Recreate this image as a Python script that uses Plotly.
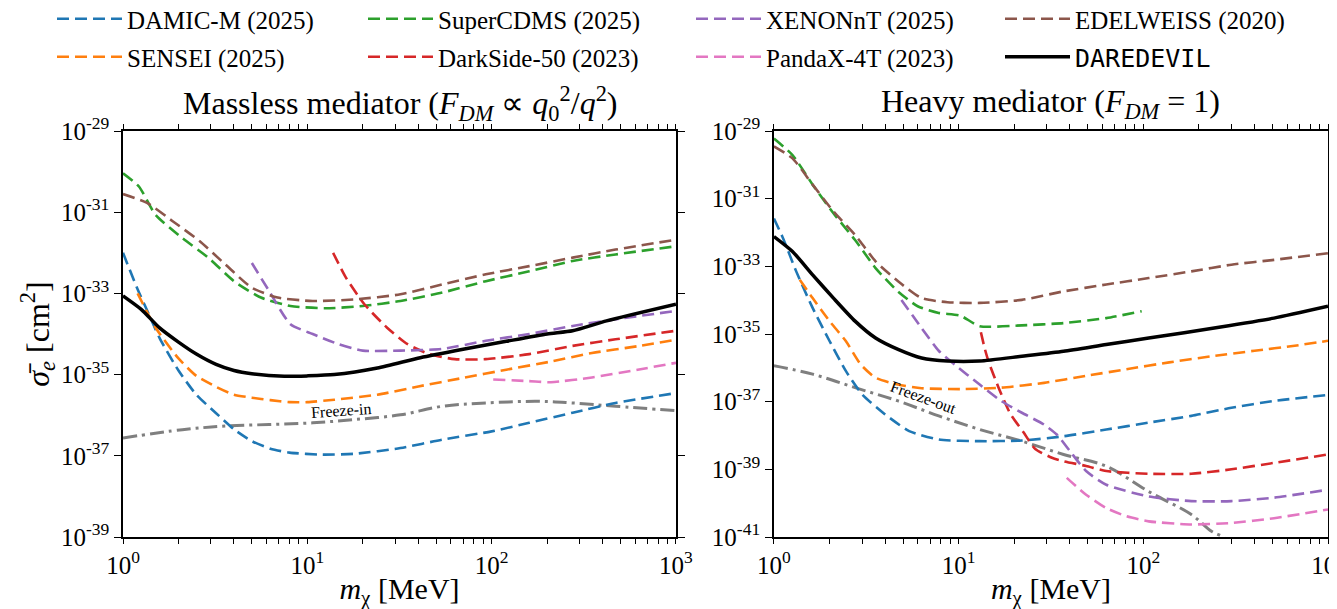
import plotly.graph_objects as go

# ---------------- data (mass in MeV, cross section in cm^2) ----------------
# Left panel: massless mediator
L_damic_m = [1.0, 1.2, 1.41, 1.58, 2.0, 2.5, 3.2, 4.0, 5.0, 6.3, 8.0, 12, 18, 32, 54, 100, 160, 275, 470, 1000]
L_damic_s = [1.0e-32, 1.26e-33, 2.5e-34, 7.9e-35, 1.26e-35, 3.2e-36, 1.12e-36, 4.5e-37, 2.3e-37, 1.5e-37,
             1.2e-37, 1.07e-37, 1.12e-37, 1.55e-37, 2.5e-37, 4.0e-37, 6.5e-37, 1.15e-36, 2.0e-36, 3.5e-36]

L_sensei_m = [1.2, 1.5, 2.0, 2.5, 3.2, 4.0, 5.0, 6.3, 8.0, 10, 14, 24, 40, 70, 120, 210, 350, 620, 1000]
L_sensei_s = [1.0e-33, 1.45e-34, 2.5e-35, 9.3e-36, 5.0e-36, 3.2e-36, 2.7e-36, 2.35e-36, 2.1e-36, 2.1e-36,
              2.4e-36, 3.2e-36, 5.1e-36, 8.3e-36, 1.32e-35, 2.1e-35, 3.4e-35, 5.0e-35, 7.2e-35]

L_scdms_m = [1.0, 1.22, 1.5, 2.1, 2.9, 4.0, 5.6, 8.1, 12.6, 20, 32, 54, 93, 160, 275, 470, 1000]
L_scdms_s = [9.1e-31, 4.3e-31, 8.7e-32, 2.3e-32, 7.6e-33, 2.0e-33, 7.9e-34, 4.9e-34, 4.3e-34, 4.9e-34,
             6.5e-34, 1.05e-33, 2.0e-33, 3.5e-33, 6.3e-33, 9.1e-33, 1.45e-32]

L_edel_m = [1.0, 1.35, 1.86, 2.6, 3.6, 5.0, 6.9, 10.7, 18, 32, 54, 93, 160, 275, 470, 1000]
L_edel_s = [2.8e-31, 1.7e-31, 6.0e-32, 1.95e-32, 5.1e-33, 1.38e-33, 7.9e-34, 6.5e-34, 7.1e-34, 9.5e-34,
            1.66e-33, 2.95e-33, 4.7e-33, 7.6e-33, 1.2e-32, 2.1e-32]

L_xenon_m = [5.0, 6.2, 8.1, 10.7, 14.8, 20, 32, 54, 93, 160, 275, 470, 1000]
L_xenon_s = [5.6e-33, 1.15e-33, 1.74e-34, 1.0e-34, 5.6e-35, 3.9e-35, 3.9e-35, 4.3e-35, 6.8e-35, 1.0e-34,
             1.58e-34, 2.3e-34, 3.7e-34]

L_ds50_m = [13.8, 16.2, 20.4, 27, 35, 46, 63, 93, 160, 275, 470, 1000]
L_ds50_s = [1.0e-32, 2.45e-33, 5.4e-34, 1.45e-34, 5.6e-35, 3.2e-35, 2.4e-35, 2.4e-35, 3.2e-35, 5.1e-35,
            7.4e-35, 1.2e-34]

L_panda_m = [102, 160, 210, 350, 620, 1000]
L_panda_s = [7.6e-36, 6.9e-36, 6.5e-36, 8.5e-36, 1.32e-35, 1.95e-35]

L_dare_m = [1.0, 1.26, 1.58, 2.0, 2.5, 3.2, 4.0, 5.0, 7.5, 10, 14, 24, 41, 70, 120, 200, 275, 420, 1000]
L_dare_s = [8.7e-34, 4.0e-34, 1.41e-34, 6.3e-35, 3.2e-35, 1.78e-35, 1.26e-35, 1.05e-35, 9.1e-36, 9.3e-36,
            1.0e-35, 1.45e-35, 2.6e-35, 4.2e-35, 6.6e-35, 1.0e-34, 1.2e-34, 2.1e-34, 5.4e-34]

L_freeze_m = [1.0, 2.1, 3.6, 6.2, 10.7, 18, 32, 54, 93, 178, 275, 470, 1000]
L_freeze_s = [2.75e-37, 4.4e-37, 5.4e-37, 5.9e-37, 6.5e-37, 7.8e-37, 1.02e-36, 1.66e-36, 2.0e-36, 2.2e-36,
              2.0e-36, 1.66e-36, 1.29e-36]

# Right panel: heavy mediator
R_damic_m = [1.0, 1.12, 1.32, 1.62, 2.0, 2.45, 3.0, 4.0, 5.4, 7.8, 13, 22, 37, 63, 107, 182, 300, 510, 1000]
R_damic_s = [2.6e-32, 6.8e-33, 7.1e-34, 5.9e-35, 6.2e-36, 8.1e-37, 1.66e-37, 4.2e-38, 1.35e-38, 7.6e-39,
             6.8e-39, 7.1e-39, 9.5e-39, 1.5e-38, 2.4e-38, 3.8e-38, 6.6e-38, 1.05e-37, 1.58e-37]

R_sensei_m = [1.38, 1.62, 2.0, 2.45, 2.95, 3.55, 4.7, 6.3, 10.2, 17, 29, 49, 81, 138, 234, 400, 660, 1000]
R_sensei_s = [4.0e-34, 1.15e-34, 2.4e-35, 6.2e-36, 1.26e-36, 5.1e-37, 3.2e-37, 2.5e-37, 2.35e-37, 2.6e-37,
              3.6e-37, 5.8e-37, 9.1e-37, 1.45e-36, 2.2e-36, 3.2e-36, 4.5e-36, 6.3e-36]

R_scdms_m = [1.0, 1.26, 1.62, 2.1, 2.75, 3.55, 4.7, 6.0, 7.8, 10.2, 13, 22, 37, 63, 98]
R_scdms_s = [6.0e-30, 1.95e-30, 2.6e-31, 3.7e-32, 6.0e-33, 8.9e-34, 1.8e-34, 6.6e-35, 4.2e-35, 3.5e-35,
             1.7e-35, 1.8e-35, 2.1e-35, 2.95e-35, 4.7e-35]

R_edel_m = [1.0, 1.26, 1.62, 2.1, 2.75, 3.55, 4.7, 6.3, 8.7, 13, 22, 37, 63, 107, 182, 300, 510, 1000]
R_edel_s = [3.5e-30, 1.55e-30, 2.6e-31, 4.2e-32, 8.5e-33, 1.41e-33, 3.6e-34, 1.15e-34, 8.7e-35, 8.3e-35,
            1.02e-34, 1.82e-34, 2.9e-34, 4.5e-34, 7.1e-34, 1.12e-33, 1.55e-33, 2.45e-33]

R_xenon_m = [4.9, 6.3, 7.8, 9.5, 13, 17, 22, 29, 34, 40, 49, 63, 107, 182, 300, 510, 1000]
R_xenon_s = [1.02e-34, 1.5e-35, 3.2e-36, 1.26e-36, 3.2e-37, 1.05e-37, 4.7e-38, 2.1e-38, 1.07e-38, 3.5e-39,
             8.9e-40, 3.5e-40, 1.58e-40, 1.15e-40, 1.15e-40, 1.45e-40, 2.5e-40]

R_ds50_m = [13.2, 13.8, 14.5, 16.5, 19, 22.4, 26, 32, 37, 49, 63, 107, 182, 300, 510, 1000]
R_ds50_s = [1.12e-35, 4.0e-36, 1.58e-36, 2.5e-37, 4.5e-38, 1.26e-38, 4.0e-39, 2.2e-39, 1.74e-39, 1.26e-39,
            8.9e-40, 7.4e-40, 7.4e-40, 1.0e-39, 1.55e-39, 2.75e-39]

R_panda_m = [38.5, 49, 63, 81, 107, 182, 300, 510, 1000]
R_panda_s = [5.6e-40, 1.78e-40, 7.2e-41, 4.1e-41, 2.9e-41, 2.35e-41, 2.6e-41, 3.6e-41, 6.5e-41]

R_dare_m = [1.0, 1.26, 1.62, 2.1, 2.75, 3.55, 4.7, 6.3, 8.7, 13, 22, 37, 63, 107, 257, 510, 1000]
R_dare_s = [7.6e-33, 2.75e-33, 5.6e-34, 1.15e-34, 2.4e-35, 7.6e-36, 3.5e-36, 1.95e-36, 1.58e-36, 1.58e-36,
            2.2e-36, 3.1e-36, 4.9e-36, 7.6e-36, 1.58e-35, 2.95e-35, 6.6e-35]

R_freeze_m = [1.0, 1.62, 2.75, 4.7, 7.8, 13, 22, 37, 63, 107, 182, 234, 270, 300]
R_freeze_s = [1.15e-36, 6.5e-37, 2.6e-37, 1.05e-37, 3.8e-38, 1.51e-38, 6.8e-39, 2.75e-39, 1.23e-39,
              2.2e-40, 4.6e-41, 1.48e-41, 1.0e-41, 6.0e-42]

# legend order: row 1 then row 2
series_names = ["DAMIC-M (2025)", "SuperCDMS (2025)", "XENONnT (2025)", "EDELWEISS (2020)",
                "SENSEI (2025)", "DarkSide-50 (2023)", "PandaX-4T (2023)", "DAREDEVIL"]
# x ticks: decades labelled, the 2..9 sub-decade ticks unlabelled
x_tickvals = [1, 2, 3, 4, 5, 6, 7, 8, 9, 10, 20, 30, 40, 50, 60, 70, 80, 90,
              100, 200, 300, 400, 500, 600, 700, 800, 900, 1000]
x_ticktext = ["10<sup>0</sup>", "", "", "", "", "", "", "", "",
              "10<sup>1</sup>", "", "", "", "", "", "", "", "",
              "10<sup>2</sup>", "", "", "", "", "", "", "", "",
              "10<sup>3</sup>"]
yL_tickvals = [1e-29, 1e-31, 1e-33, 1e-35, 1e-37, 1e-39]
yL_ticktext = ["10<sup>-29</sup>", "10<sup>-31</sup>", "10<sup>-33</sup>", "10<sup>-35</sup>",
               "10<sup>-37</sup>", "10<sup>-39</sup>"]
yR_tickvals = [1e-29, 1e-31, 1e-33, 1e-35, 1e-37, 1e-39, 1e-41]
yR_ticktext = ["10<sup>-29</sup>", "10<sup>-31</sup>", "10<sup>-33</sup>", "10<sup>-35</sup>",
               "10<sup>-37</sup>", "10<sup>-39</sup>", "10<sup>-41</sup>"]

# ---------------- styling ----------------
C = {"DAMIC-M (2025)": "#1f77b4", "SENSEI (2025)": "#ff7f0e", "SuperCDMS (2025)": "#2ca02c",
     "DarkSide-50 (2023)": "#d62728", "XENONnT (2025)": "#9467bd", "PandaX-4T (2023)": "#e377c2",
     "EDELWEISS (2020)": "#8c564b", "DAREDEVIL": "#000000"}
SERIF = "Liberation Serif, Times New Roman, serif"
DASH = "12px,6px"
W, H = 1337, 609
LEG_X = [44, 355, 683, 992]      # px from left, per legend column
LEG_Y = [11, 49]                 # px from top, per legend row

left = {"DAMIC-M (2025)": (L_damic_m, L_damic_s), "SENSEI (2025)": (L_sensei_m, L_sensei_s),
        "SuperCDMS (2025)": (L_scdms_m, L_scdms_s), "DarkSide-50 (2023)": (L_ds50_m, L_ds50_s),
        "XENONnT (2025)": (L_xenon_m, L_xenon_s), "PandaX-4T (2023)": (L_panda_m, L_panda_s),
        "EDELWEISS (2020)": (L_edel_m, L_edel_s), "DAREDEVIL": (L_dare_m, L_dare_s)}
right = {"DAMIC-M (2025)": (R_damic_m, R_damic_s), "SENSEI (2025)": (R_sensei_m, R_sensei_s),
         "SuperCDMS (2025)": (R_scdms_m, R_scdms_s), "DarkSide-50 (2023)": (R_ds50_m, R_ds50_s),
         "XENONnT (2025)": (R_xenon_m, R_xenon_s), "PandaX-4T (2023)": (R_panda_m, R_panda_s),
         "EDELWEISS (2020)": (R_edel_m, R_edel_s), "DAREDEVIL": (R_dare_m, R_dare_s)}

fig = go.Figure()

# freeze lines (drawn first, below)
freeze_line = dict(color="#7f7f7f", width=3, dash="14px,5px,3px,5px", shape="spline")
fig.add_trace(go.Scatter(x=L_freeze_m, y=L_freeze_s, mode="lines", showlegend=False, line=freeze_line,
                         xaxis="x", yaxis="y", hoverinfo="skip"))
fig.add_trace(go.Scatter(x=R_freeze_m, y=R_freeze_s, mode="lines", showlegend=False, line=freeze_line,
                         xaxis="x2", yaxis="y2", hoverinfo="skip"))

draw_order = ["DAMIC-M (2025)", "SENSEI (2025)", "SuperCDMS (2025)", "DarkSide-50 (2023)",
              "XENONnT (2025)", "PandaX-4T (2023)", "EDELWEISS (2020)", "DAREDEVIL"]
legend_layouts = {}
for name in draw_order:
    k = series_names.index(name)
    leg_id = "legend" if k == 0 else "legend%d" % (k + 1)
    col, row = k % 4, k // 4
    legend_layouts[leg_id] = dict(
        orientation="h", x=LEG_X[col] / W, y=1 - LEG_Y[row] / H, xref="container", yref="container",
        xanchor="left", yanchor="middle", itemwidth=65, bgcolor="rgba(0,0,0,0)",
        font=dict(family=SERIF, size=25, color="black"))
    is_dd = name == "DAREDEVIL"
    disp = '<span style="font-family:DejaVu Sans Mono">DAREDEVIL</span>' if is_dd else name
    ln = dict(color=C[name], width=3.5 if is_dd else 2.6, dash="solid" if is_dd else DASH, shape="spline",
              smoothing=0.6)
    xm, ys = left[name]
    fig.add_trace(go.Scatter(x=xm, y=ys, mode="lines", name=disp, line=ln, legend=leg_id,
                             xaxis="x", yaxis="y"))
    xm, ys = right[name]
    fig.add_trace(go.Scatter(x=xm, y=ys, mode="lines", name=disp, line=ln, showlegend=False,
                             xaxis="x2", yaxis="y2"))

axis_common = dict(type="log", showline=True, linecolor="black", linewidth=1.5, mirror="ticks",
                   ticks="outside", tickwidth=1.2, tickcolor="black", showgrid=False,
                   zeroline=False, automargin=False, ticklabeloverflow="allow",
                   tickfont=dict(family=SERIF, size=25, color="black"))

xa = dict(axis_common, range=[0, 3], tickmode="array", tickvals=x_tickvals, ticktext=x_ticktext, ticklen=5,
          title=dict(text="<i>m</i><sub>χ</sub> [MeV]", font=dict(family=SERIF, size=30, color="black"),
                     standoff=0))

fig.update_layout(
    template="none",
    width=W, height=H,
    margin=dict(l=115, r=17, t=123, b=80, autoexpand=False),
    paper_bgcolor="white", plot_bgcolor="white",
    font=dict(family=SERIF, color="black"),
    showlegend=True,
    xaxis=dict(xa, domain=[0, 0.4589], anchor="y"),
    xaxis2=dict(xa, domain=[0.5402, 1.0], anchor="y2"),
    yaxis=dict(axis_common, range=[-39, -29], tickmode="array", tickvals=yL_tickvals, ticktext=yL_ticktext,
               ticklen=7, anchor="x", domain=[0, 1],
               title=dict(text="<i>σ̄</i><sub><i>e</i></sub> [cm<sup>2</sup>]",
                          font=dict(family=SERIF, size=32, color="black"), standoff=2)),
    yaxis2=dict(axis_common, range=[-41, -29], tickmode="array", tickvals=yR_tickvals, ticktext=yR_ticktext,
                ticklen=7, anchor="x2", domain=[0, 1]),
    annotations=[
        dict(text="Massless mediator (<i>F</i><sub><i>DM</i></sub> ∝ <i>q</i><sub>0</sub><sup>2</sup>/<i>q</i><sup>2</sup>)",
             xref="paper", yref="paper", x=0.2295, y=1.068, xanchor="center", yanchor="middle",
             showarrow=False, font=dict(family=SERIF, size=32, color="black")),
        dict(text="Heavy mediator (<i>F</i><sub><i>DM</i></sub> = 1)",
             xref="paper", yref="paper", x=0.7701, y=1.068, xanchor="center", yanchor="middle",
             showarrow=False, font=dict(family=SERIF, size=32, color="black")),
        dict(text="Freeze-in", xref="x", yref="y", x=1.18, y=-35.89, showarrow=False, textangle=-4,
             font=dict(family=SERIF, size=16, color="black")),
        dict(text="Freeze-out", xref="x2", yref="y2", x=0.81, y=-36.88, showarrow=False, textangle=20,
             font=dict(family=SERIF, size=16, color="black")),
    ],
)
fig.update_layout(**legend_layouts)

fig.write_html("out.html")
